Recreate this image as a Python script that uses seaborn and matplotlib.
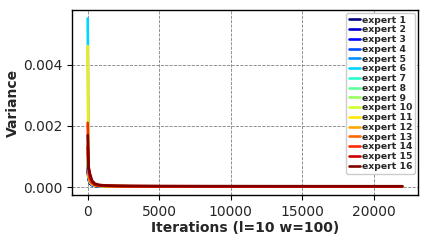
import numpy as np
import pandas as pd
import matplotlib
matplotlib.use("Agg")
import matplotlib.pyplot as plt
import seaborn as sns

# iteration checkpoints
iters = [0, 60, 150, 300, 500, 800, 1200, 2000, 3000, 5000, 8000, 12000, 16000, 20000, 22000]

# variance per expert, in units of 1e-4
e1 = [6.0, 3.0, 1.5, 0.8, 0.5, 0.4, 0.35, 0.3, 0.3, 0.28, 0.27, 0.26, 0.25, 0.25, 0.25]
e2 = [5.0, 2.5, 1.2, 0.7, 0.45, 0.35, 0.3, 0.28, 0.27, 0.26, 0.25, 0.24, 0.24, 0.23, 0.23]
e3 = [7.0, 3.2, 1.6, 0.9, 0.55, 0.4, 0.35, 0.3, 0.28, 0.27, 0.26, 0.25, 0.25, 0.24, 0.24]
e4 = [8.0, 3.5, 1.8, 1.0, 0.6, 0.45, 0.38, 0.32, 0.3, 0.28, 0.27, 0.26, 0.25, 0.25, 0.25]
e5 = [9.0, 3.8, 1.9, 1.0, 0.6, 0.45, 0.38, 0.33, 0.3, 0.29, 0.28, 0.27, 0.26, 0.26, 0.26]
e6 = [55.0, 6.0, 2.5, 1.2, 0.7, 0.5, 0.4, 0.35, 0.32, 0.3, 0.29, 0.28, 0.27, 0.27, 0.27]
e7 = [10.0, 4.0, 2.0, 1.1, 0.65, 0.48, 0.4, 0.34, 0.31, 0.29, 0.28, 0.27, 0.26, 0.26, 0.26]
e8 = [9.0, 3.6, 1.8, 1.0, 0.6, 0.45, 0.38, 0.33, 0.3, 0.28, 0.27, 0.26, 0.26, 0.25, 0.25]
e9 = [8.0, 3.4, 1.7, 0.95, 0.58, 0.44, 0.37, 0.32, 0.3, 0.28, 0.27, 0.26, 0.25, 0.25, 0.25]
e10 = [12.0, 4.5, 2.2, 1.2, 0.7, 0.5, 0.42, 0.36, 0.33, 0.3, 0.29, 0.28, 0.27, 0.27, 0.27]
e11 = [46.0, 5.5, 2.6, 1.4, 0.8, 0.55, 0.45, 0.38, 0.34, 0.31, 0.3, 0.29, 0.28, 0.28, 0.28]
e12 = [14.0, 5.0, 2.4, 1.3, 0.75, 0.52, 0.43, 0.37, 0.33, 0.3, 0.29, 0.28, 0.27, 0.27, 0.27]
e13 = [11.0, 4.2, 2.1, 1.2, 0.7, 0.5, 0.42, 0.36, 0.32, 0.3, 0.29, 0.28, 0.27, 0.27, 0.27]
e14 = [21.0, 6.5, 3.0, 1.5, 0.85, 0.6, 0.48, 0.4, 0.36, 0.33, 0.32, 0.31, 0.3, 0.3, 0.3]
e15 = [13.0, 7.0, 4.0, 1.8, 0.9, 0.62, 0.5, 0.42, 0.38, 0.35, 0.33, 0.32, 0.31, 0.31, 0.31]
e16 = [17.0, 6.0, 4.5, 2.2, 1.2, 0.8, 0.6, 0.5, 0.45, 0.4, 0.38, 0.37, 0.36, 0.35, 0.35]

experts = [e1, e2, e3, e4, e5, e6, e7, e8, e9, e10, e11, e12, e13, e14, e15, e16]
names = ["expert %d" % (i + 1) for i in range(16)]

rows = []
for name, vals in zip(names, experts):
    for it, v in zip(iters, vals):
        rows.append({"iter": it, "var": v * 1e-4, "expert": name})
df = pd.DataFrame(rows)

sns.set_style("white")
plt.rcParams['font.family'] = ['DejaVu Sans']

colors = [plt.cm.jet(i / 15) for i in range(16)]

fig, ax = plt.subplots(figsize=(4.26, 2.4), dpi=100)
sns.lineplot(data=df, x="iter", y="var", hue="expert", palette=colors,
             linewidth=1.9, ax=ax)

ax.grid(True, linestyle="--", color="gray", linewidth=0.6)
for s in ax.spines.values():
    s.set_color("black")
    s.set_linewidth(1.0)
ax.set_yticks([0, 0.002, 0.004])
ax.set_xticks([0, 5000, 10000, 15000, 20000])
ax.tick_params(axis="both", labelsize=10, length=3.5, color="black", direction="out", bottom=True, left=True)
ax.set_xlabel("Iterations (l=10 w=100)", fontsize=10, fontweight="bold", labelpad=2)
ax.set_ylabel("Variance", fontsize=10, fontweight="bold", labelpad=2)

leg = ax.legend(loc="upper right", prop={"size": 6.7, "weight": "bold"},
                handlelength=1.2, handletextpad=0.2, labelspacing=0.08,
                borderpad=0.3, borderaxespad=0.3, framealpha=1.0)

plt.subplots_adjust(left=0.169, right=0.981, top=0.958, bottom=0.1875)
plt.savefig("out.png", dpi=100)
